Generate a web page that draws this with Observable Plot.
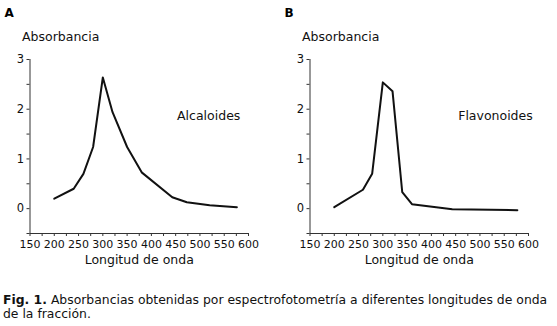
<!DOCTYPE html>
<html>
<head>
<meta charset="utf-8">
<script src="https://cdn.jsdelivr.net/npm/d3@7"></script>
<script src="https://cdn.jsdelivr.net/npm/@observablehq/plot@0.6"></script>
<style>
  body { margin: 0; background: #fff; font-family: "DejaVu Sans", Verdana, sans-serif; }
  #wrap { width: 557px; height: 326px; position: relative; }
  #panels { display: flex; height: 272px; }
  #caption { position: absolute; left: 3px; top: 293px; width: 556px; font-size: 12.4px; line-height: 14px; color: #111; white-space: nowrap; }
  svg text { font-family: "DejaVu Sans", Verdana, sans-serif; }
</style>
</head>
<body>
<div id="wrap">
  <div id="panels"></div>
  <div id="caption"><b>Fig. 1.</b> Absorbancias obtenidas por espectrofotometría a diferentes longitudes de onda<br>de la fracción.</div>
</div>
<script>
// Panel A: Alcaloides
const wavelengthA = [200, 240, 260, 280, 300, 320, 350, 380, 443, 473, 520, 576];
const absorbanceA = [0.20, 0.40, 0.70, 1.24, 2.64, 1.94, 1.24, 0.73, 0.23, 0.13, 0.07, 0.03];
// Panel B: Flavonoides
const wavelengthB = [200, 259, 278, 300, 320, 340, 360, 443, 577];
const absorbanceB = [0.03, 0.38, 0.70, 2.54, 2.36, 0.33, 0.09, -0.01, -0.03];

const panelLetters = ["A", "B"];
const seriesNames = ["Alcaloides", "Flavonoides"];
const nameX = [518, 532];
const nameY = [1.87, 1.87];
const xMajorTicks = [150, 200, 250, 300, 350, 400, 450, 500, 550, 600];
const xMinorTicks = [175, 225, 275, 325, 375, 425, 475, 525, 575];
const yMajorTicks = [0, 1, 2, 3];
const yMinorTicks = [-0.5, 0.5, 1.5, 2.5];
const yLabel = "Absorbancia";
const xLabel = "Longitud de onda";

function panel(i, xs, ys, w) {
  const data = xs.map((x, k) => ({x, y: ys[k]}));
  return Plot.plot({
    width: w,
    height: 272,
    marginLeft: 29.5,
    marginRight: w - 248,
    marginTop: 59,
    marginBottom: 39,
    x: {domain: [150, 600], axis: null},
    y: {domain: [-0.5, 3], axis: null},
    style: {background: "transparent", color: "#111", overflow: "visible"},
    marks: [
      Plot.ruleX([150], {stroke: "#333", strokeWidth: 1}),
      Plot.ruleY([-0.5], {stroke: "#333", strokeWidth: 1}),
      Plot.axisY({ticks: yMajorTicks, tickSize: 3, tickPadding: 3, fontSize: 11.5, label: null, tickFormat: d3.format("d"), stroke: "#333"}),
      Plot.axisY({ticks: yMinorTicks, tickSize: 3, tickFormat: () => "", label: null, stroke: "#333"}),
      Plot.axisX({ticks: xMajorTicks, tickSize: 3, tickPadding: 4, fontSize: 11, label: null, tickFormat: d3.format("d"), stroke: "#333"}),
      Plot.axisX({ticks: xMinorTicks, tickSize: 3, tickFormat: () => "", label: null, stroke: "#333"}),
      Plot.line(data, {x: "x", y: "y", stroke: "#111", strokeWidth: 2, strokeLinejoin: "round"}),
      Plot.text([seriesNames[i]], {x: nameX[i], y: nameY[i], fontSize: 12.5, fill: "#111"}),
      Plot.text([yLabel], {frameAnchor: "top-left", textAnchor: "start", dx: -8, dy: -27, fontSize: 12.5, fill: "#111"}),
      Plot.text([xLabel], {frameAnchor: "bottom", dy: 30, fontSize: 12.5, fill: "#111"}),
      Plot.text([panelLetters[i]], {frameAnchor: "top-left", textAnchor: "start", dx: -25.5, dy: -51, fontSize: 12, fontWeight: "bold", fill: "#000", fontFamily: "Liberation Sans, Arial, sans-serif"})
    ]
  });
}

const host = document.getElementById("panels");
host.appendChild(panel(0, wavelengthA, absorbanceA, 280));
host.appendChild(panel(1, wavelengthB, absorbanceB, 277));
</script>
</body>
</html>
